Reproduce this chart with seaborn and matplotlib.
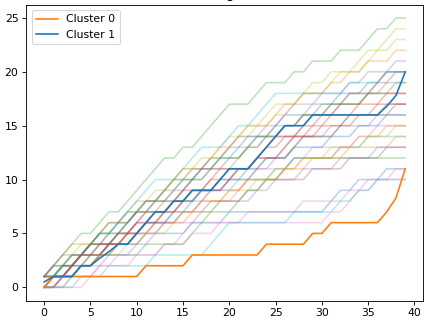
import numpy as np
import matplotlib
matplotlib.use("Agg")
import matplotlib.pyplot as plt
import seaborn as sns

# eixo x: passos 0..39
steps = list(range(40))

# series individuais (cumulativas)
series = [
    [1, 1, 2, 2, 3, 3, 3, 3, 4, 4, 4, 5, 5, 5, 5, 5, 6, 6, 6, 6,
     7, 7, 7, 7, 7, 7, 7, 7, 7, 7, 7, 8, 9, 9, 10, 10, 10, 11, 11, 11],
    [1, 2, 3, 4, 4, 4, 5, 6, 6, 7, 8, 8, 8, 9, 10, 11, 11, 11, 12, 13,
     13, 14, 15, 15, 15, 16, 17, 17, 18, 18, 18, 19, 19, 20, 20, 21, 21, 21, 22, 22],
    [1, 2, 3, 4, 5, 5, 6, 7, 7, 8, 9, 10, 11, 12, 12, 13, 13, 14, 15, 16,
     17, 17, 17, 18, 19, 19, 19, 20, 20, 21, 21, 21, 22, 22, 22, 23, 24, 24, 25, 25],
    [0, 1, 1, 2, 3, 3, 3, 4, 5, 5, 5, 6, 7, 7, 8, 8, 8, 9, 10, 10,
     11, 11, 11, 12, 13, 13, 14, 14, 14, 15, 16, 16, 16, 16, 17, 18, 18, 18, 18, 18],
    [0, 0, 1, 2, 2, 2, 3, 4, 4, 5, 6, 6, 6, 6, 7, 8, 8, 9, 9, 9,
     10, 11, 11, 11, 11, 12, 12, 13, 14, 14, 14, 14, 15, 15, 15, 15, 16, 16, 16, 16],
    [1, 1, 1, 2, 3, 4, 4, 4, 4, 4, 5, 6, 6, 6, 6, 7, 7, 7, 8, 8,
     8, 8, 9, 9, 10, 10, 10, 10, 10, 11, 11, 11, 11, 12, 12, 12, 12, 13, 13, 13],
    [0, 0, 0, 0, 0, 1, 2, 2, 2, 2, 3, 3, 3, 4, 4, 5, 6, 6, 6, 6,
     6, 6, 6, 6, 6, 6, 6, 6, 6, 6, 6, 7, 7, 8, 9, 10, 10, 10, 10, 10],
    [1, 1, 2, 3, 3, 3, 4, 5, 5, 5, 6, 7, 8, 8, 8, 9, 10, 10, 11, 11,
     11, 12, 13, 13, 14, 14, 14, 14, 15, 16, 16, 16, 17, 17, 17, 18, 18, 19, 19, 19],
    [0, 1, 2, 3, 3, 4, 5, 6, 6, 6, 7, 8, 9, 9, 10, 11, 11, 11, 12, 13,
     14, 14, 14, 15, 16, 17, 17, 17, 18, 19, 19, 20, 20, 20, 21, 22, 22, 23, 24, 24],
    [0, 0, 1, 2, 2, 3, 4, 4, 5, 6, 7, 7, 7, 7, 8, 8, 8, 9, 9, 9,
     9, 10, 10, 10, 10, 11, 11, 12, 12, 12, 12, 12, 13, 13, 13, 14, 14, 14, 14, 14],
    [1, 2, 2, 2, 3, 4, 5, 5, 6, 7, 7, 7, 8, 9, 10, 10, 10, 11, 12, 12,
     12, 13, 14, 14, 14, 15, 16, 16, 16, 16, 17, 17, 18, 18, 18, 19, 19, 20, 20, 20],
    [0, 0, 1, 2, 3, 3, 3, 3, 4, 5, 5, 5, 6, 7, 7, 7, 7, 8, 8, 8,
     9, 9, 10, 10, 10, 10, 11, 11, 12, 12, 12, 12, 13, 13, 14, 14, 14, 15, 15, 15],
    [0, 1, 1, 1, 2, 2, 3, 3, 3, 3, 3, 4, 4, 4, 4, 4, 5, 6, 7, 7,
     7, 8, 9, 9, 10, 10, 11, 12, 12, 12, 12, 12, 12, 12, 12, 12, 12, 12, 12, 12],
    [1, 1, 1, 2, 3, 3, 4, 4, 4, 5, 6, 7, 7, 7, 8, 9, 9, 9, 10, 11,
     11, 11, 11, 12, 13, 14, 14, 14, 15, 15, 15, 16, 17, 17, 17, 17, 17, 18, 18, 18],
    [0, 1, 2, 2, 3, 4, 4, 5, 6, 6, 7, 8, 8, 8, 9, 10, 11, 11, 11, 12,
     13, 14, 14, 14, 15, 15, 16, 17, 17, 17, 18, 18, 18, 19, 19, 20, 20, 20, 21, 21],
    [1, 1, 2, 3, 3, 4, 4, 4, 5, 6, 7, 7, 7, 8, 8, 9, 10, 11, 11, 11,
     12, 12, 13, 14, 14, 14, 15, 15, 16, 16, 16, 17, 17, 18, 18, 18, 19, 19, 20, 20],
    [0, 0, 1, 1, 2, 2, 3, 4, 4, 4, 4, 5, 6, 6, 6, 7, 7, 8, 9, 9,
     9, 9, 10, 11, 11, 11, 11, 12, 12, 13, 13, 13, 13, 13, 14, 14, 15, 15, 15, 15],
    [1, 1, 1, 2, 3, 3, 3, 4, 5, 5, 5, 5, 6, 7, 8, 8, 8, 8, 9, 10,
     10, 11, 11, 11, 12, 12, 13, 14, 14, 14, 14, 15, 15, 16, 16, 16, 16, 17, 17, 17],
    [1, 1, 2, 3, 4, 4, 4, 5, 6, 7, 7, 7, 8, 9, 10, 10, 11, 12, 12, 12,
     13, 14, 15, 15, 15, 16, 16, 17, 18, 18, 18, 19, 20, 20, 20, 21, 22, 22, 23, 23],
    [0, 1, 2, 3, 3, 4, 5, 5, 6, 7, 8, 9, 10, 10, 10, 11, 12, 13, 13, 13,
     14, 15, 15, 16, 17, 18, 18, 18, 18, 18, 18, 18, 18, 19, 19, 19, 19, 20, 20, 20],
    [0, 1, 1, 1, 2, 3, 3, 4, 4, 4, 5, 6, 6, 6, 7, 7, 8, 9, 9, 9,
     10, 10, 10, 11, 12, 12, 12, 13, 13, 13, 13, 14, 14, 14, 15, 15, 15, 16, 16, 16],
    [1, 1, 1, 1, 2, 3, 3, 4, 4, 4, 5, 5, 5, 6, 6, 6, 7, 8, 8, 8,
     8, 9, 10, 10, 10, 10, 11, 11, 11, 12, 12, 12, 12, 13, 13, 13, 13, 13, 14, 14],
    [0, 1, 2, 2, 3, 4, 5, 5, 5, 6, 7, 8, 8, 8, 9, 10, 10, 10, 11, 12,
     12, 12, 13, 14, 14, 14, 15, 15, 16, 16, 16, 17, 17, 17, 17, 18, 18, 18, 19, 19],
    [0, 0, 1, 2, 2, 2, 3, 4, 4, 5, 6, 6, 6, 7, 7, 8, 9, 9, 9, 9,
     10, 11, 11, 12, 12, 12, 13, 14, 14, 14, 15, 15, 15, 15, 16, 16, 17, 17, 17, 17],
    [0, 0, 0, 1, 2, 2, 2, 3, 3, 3, 4, 4, 5, 6, 6, 6, 6, 7, 7, 8,
     8, 8, 8, 9, 9, 10, 10, 10, 11, 11, 11, 11, 12, 12, 12, 12, 13, 13, 13, 13],
    [1, 2, 2, 2, 3, 4, 4, 4, 5, 5, 5, 6, 7, 7, 7, 8, 9, 9, 9, 10,
     10, 10, 11, 12, 12, 12, 12, 13, 14, 14, 14, 14, 15, 16, 16, 16, 16, 16, 17, 17],
    [0, 0, 1, 1, 1, 1, 2, 2, 3, 3, 3, 3, 3, 4, 4, 4, 5, 5, 5, 6,
     6, 6, 7, 7, 7, 7, 7, 7, 8, 8, 8, 8, 8, 9, 9, 9, 10, 10, 11, 11],
    [1, 2, 3, 3, 3, 4, 5, 6, 6, 6, 7, 8, 8, 9, 9, 9, 10, 11, 11, 12,
     13, 13, 13, 13, 14, 15, 15, 15, 16, 17, 17, 17, 17, 18, 18, 18, 19, 20, 20, 20],
    [0, 0, 0, 1, 2, 2, 3, 3, 3, 4, 4, 5, 5, 5, 6, 7, 7, 7, 7, 8,
     9, 9, 9, 10, 10, 11, 11, 11, 12, 12, 12, 13, 13, 13, 13, 14, 14, 14, 15, 15],
    [0, 0, 0, 0, 1, 1, 1, 2, 2, 2, 2, 2, 3, 3, 3, 3, 3, 3, 4, 5,
     6, 6, 6, 6, 6, 6, 6, 7, 7, 7, 7, 7, 8, 8, 9, 9, 10, 10, 10, 10],
]

# centros dos clusters
cluster_0 = [0, 1, 1, 1, 1, 1, 1, 1, 1, 1, 1, 2, 2, 2, 2, 2, 3, 3, 3, 3,
             3, 3, 3, 3, 4, 4, 4, 4, 4, 5, 5, 6, 6, 6, 6, 6, 6, 7, 8.3, 11]
cluster_1 = [0.5, 1, 1, 1, 2, 2, 2.7, 3.3, 4, 4, 5, 6, 7, 7, 8, 8, 9, 9, 9, 10,
             11, 11, 11, 12, 13, 14, 15, 15, 15, 16, 16, 16, 16, 16, 16, 16, 16, 16.8, 17.8, 20]

# figura reduzida (~0.785 da escala normal) para ficar com 428x322 px
DPI = 78.5
fig, ax = plt.subplots(figsize=(428 / DPI, 322 / DPI), dpi=DPI)
fig.subplots_adjust(left=0.061, right=0.989, bottom=0.066, top=0.986)

# linhas individuais, bem claras
for i, vals in enumerate(series):
    sns.lineplot(x=steps, y=vals, ax=ax, color=f"C{i % 10}", alpha=0.3,
                 linewidth=1.5)

# linhas dos clusters por cima
sns.lineplot(x=steps, y=cluster_0, ax=ax, color="C1", linewidth=1.5, label="Cluster 0")
sns.lineplot(x=steps, y=cluster_1, ax=ax, color="C0", linewidth=1.5, label="Cluster 1")

ax.set_title("Clustering results")
ax.set_xticks([0, 5, 10, 15, 20, 25, 30, 35, 40])
ax.set_yticks([0, 5, 10, 15, 20, 25])
ax.legend(loc="upper left")

fig.savefig("out.png", dpi=DPI)
